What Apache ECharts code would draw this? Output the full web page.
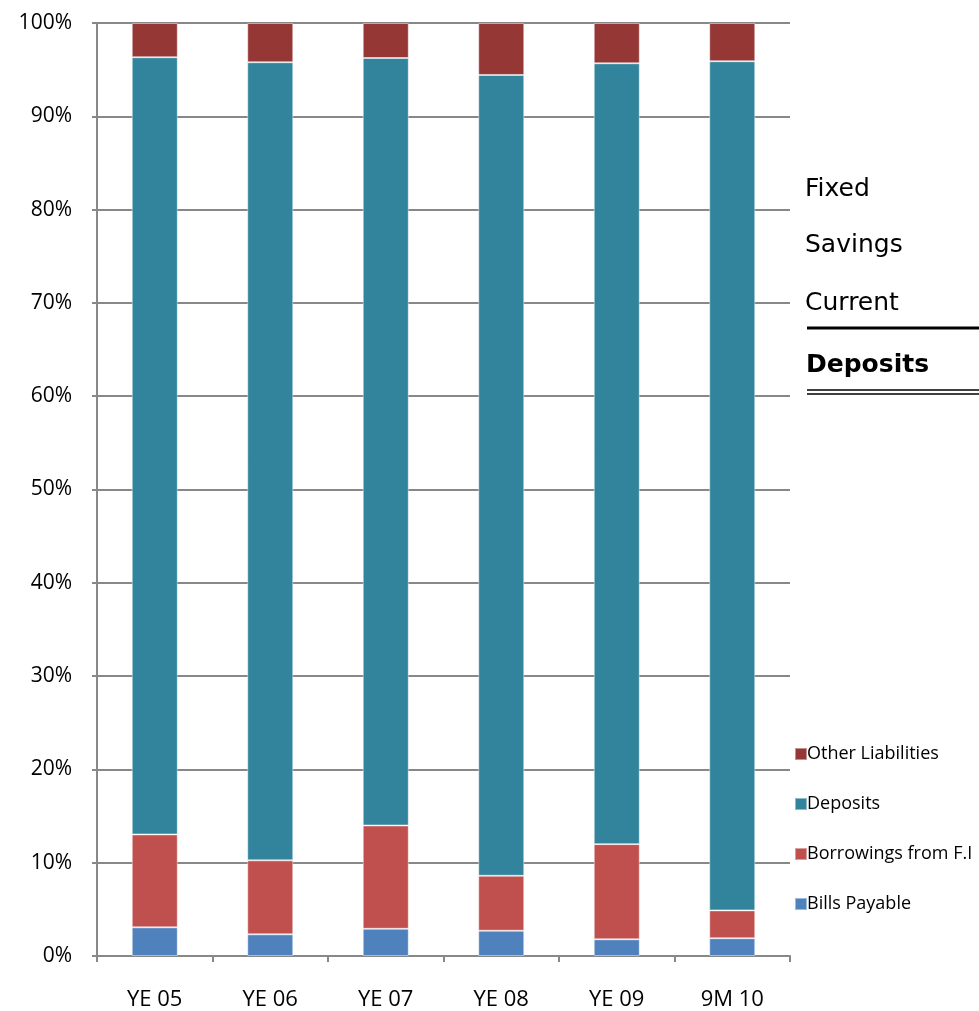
<!DOCTYPE html>
<html>
<head>
<meta charset="utf-8">
<script src="https://cdn.jsdelivr.net/npm/echarts@6/dist/echarts.min.js"></script>
<style>html,body{margin:0;padding:0;background:#fff;}#c{width:979px;height:1011px;}</style>
</head>
<body>
<div id="c"></div>
<script>
const categories = ['YE 05', 'YE 06', 'YE 07', 'YE 08', 'YE 09', '9M 10'];
const billsPayable = [3.07, 2.32, 2.92, 2.71, 1.79, 1.90];
const borrowings = [9.96, 7.93, 11.07, 5.89, 10.20, 2.99];
const deposits = [83.30, 85.54, 82.26, 85.83, 83.69, 91.01];
const otherLiabilities = [3.67, 4.21, 3.75, 5.57, 4.32, 4.10];
const yTicks = [0, 10, 20, 30, 40, 50, 60, 70, 80, 90, 100];
const sideTexts = ['Fixed', 'Savings', 'Current'];
const sideTitle = 'Deposits';

const chart = echarts.init(document.getElementById('c'));
const FONT = '"Open Sans", sans-serif';
const gridColor = '#888888';
const border = {borderColor: 'rgba(255,255,255,0.45)', borderWidth: 1};

function mk(name, data, color) {
  return {name, type: 'bar', stack: 'total', data, barWidth: 46,
    itemStyle: Object.assign({color}, border), emphasis: {disabled: true}};
}

chart.setOption({
  animation: false,
  backgroundColor: '#ffffff',
  grid: {left: 97, right: 189, top: 23, bottom: 54, containLabel: false},
  xAxis: {
    type: 'category', data: categories,
    axisLine: {show: true, lineStyle: {color: gridColor, width: 2}},
    axisTick: {show: true, alignWithLabel: false, length: 6, lineStyle: {color: gridColor, width: 2}},
    axisLabel: {color: '#000', fontFamily: FONT, fontSize: 22, margin: 33}
  },
  yAxis: {
    type: 'value', min: yTicks[0], max: yTicks[yTicks.length - 1], interval: 10,
    axisLine: {show: true, lineStyle: {color: gridColor, width: 2}},
    axisTick: {show: true, inside: false, length: 5, lineStyle: {color: gridColor, width: 2}},
    axisLabel: {color: '#000', fontFamily: FONT, fontSize: 21, margin: 25, formatter: '{value}%'},
    splitLine: {show: true, lineStyle: {color: gridColor, width: 2}}
  },
  legend: {
    orient: 'vertical', left: 789, top: 740,
    itemWidth: 12, itemHeight: 12, itemGap: 32,
    icon: 'rect',
    data: ['Other Liabilities', 'Deposits', 'Borrowings from F.I', 'Bills Payable'],
    textStyle: {color: '#000', fontFamily: FONT, fontSize: 18, padding: [0, 0, 0, -5]},
    selectedMode: false
  },
  series: [
    mk('Bills Payable', billsPayable, '#4F81BD'),
    mk('Borrowings from F.I', borrowings, '#C0504D'),
    mk('Deposits', deposits, '#31849B'),
    mk('Other Liabilities', otherLiabilities, '#953735')
  ],
  graphic: [
    {type: 'text', left: 805, top: 177, style: {text: sideTexts[0], fontFamily: '"DejaVu Sans", sans-serif', fontSize: 25, fill: '#000'}},
    {type: 'text', left: 805, top: 233, style: {text: sideTexts[1], fontFamily: '"DejaVu Sans", sans-serif', fontSize: 25, fill: '#000'}},
    {type: 'text', left: 805, top: 291, style: {text: sideTexts[2], fontFamily: '"DejaVu Sans", sans-serif', fontSize: 25, fill: '#000'}},
    {type: 'line', shape: {x1: 807, y1: 328, x2: 979, y2: 328}, style: {stroke: '#000', lineWidth: 3}},
    {type: 'text', left: 806, top: 353, style: {text: sideTitle, fontFamily: '"DejaVu Sans", sans-serif', fontWeight: 'bold', fontSize: 25, fill: '#000'}},
    {type: 'line', shape: {x1: 807, y1: 390, x2: 979, y2: 390}, style: {stroke: '#000', lineWidth: 1.5}},
    {type: 'line', shape: {x1: 807, y1: 394, x2: 979, y2: 394}, style: {stroke: '#000', lineWidth: 1.5}}
  ]
});
</script>
</body>
</html>
